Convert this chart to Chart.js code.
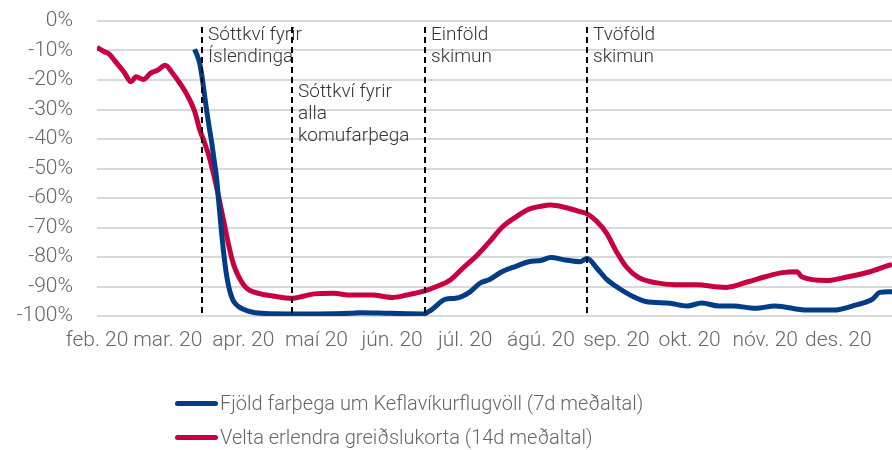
<!DOCTYPE html>
<html>
<head>
<meta charset="utf-8">
<script src="https://cdn.jsdelivr.net/npm/chart.js@4/dist/chart.umd.min.js"></script>
<style>
  html, body { margin:0; padding:0; background:#fff; }
  #wrap { position:relative; width:892px; height:450px; font-family: Roboto, sans-serif; font-weight:300; }
  #legend { position:absolute; left:175px; top:386px; color:#666; font-size:20px; }
  #legend .item { display:flex; align-items:center; height:34px; }
  #legend .swatch { width:43px; height:5px; border-radius:3px; margin-right:2px; }
</style>
</head>
<body>
<div id="wrap">
  <canvas id="c" width="892" height="450"></canvas>
  <div id="legend"></div>
</div>
<script>
  // x = dagar frá 1. feb 2020
  const monthDays = [0, 29, 60, 90, 121, 151, 182, 213, 243, 274, 304];
  const monthLabels = ['feb. 20','mar. 20','apr. 20','maí 20','jún. 20','júl. 20','ágú. 20','sep. 20','okt. 20','nóv. 20','des. 20'];

  const seriesLabels = ['Fjöld farþega um Keflavíkurflugvöll (7d meðaltal)', 'Velta erlendra greiðslukorta (14d meðaltal)'];
  const seriesColors = ['#003d86', '#c8003e'];

  const blueDays = [40, 41, 42, 43, 44, 45, 46, 47, 48, 49, 50, 51, 52, 53, 54, 55, 56, 58, 60, 65, 79, 90, 104, 108, 120, 134, 137, 143, 147, 153, 157, 161, 166, 172, 177, 182, 186, 192, 198, 201, 205, 209, 214, 220, 225, 235, 242, 248, 255, 261, 270, 278, 291, 302, 311, 318, 321, 326];
  const blueValues = [-9.6, -11.5, -14, -18.5, -24.5, -30.5, -36, -41, -47, -53, -62, -71, -79, -85.5, -90, -93, -95, -96.8, -97.7, -98.9, -99.3, -99.3, -99.1, -98.9, -99.1, -99.3, -98, -94.3, -94, -91.8, -88.9, -87.6, -85, -83.1, -81.6, -81.2, -80.2, -81, -81.6, -80.5, -83.8, -87.6, -90.6, -93.5, -95.1, -95.7, -96.6, -95.6, -96.6, -96.6, -97.4, -96.6, -98, -98, -96.3, -94.3, -92, -91.8];

  const redDays = [0, 3, 5, 7, 11, 14, 16, 19, 22, 25, 28, 31, 34, 37, 40, 42, 44, 46, 48, 50, 52, 54, 56, 58, 60, 62, 67, 72, 80, 85, 89, 97, 104, 113, 121, 127, 134, 139, 145, 150, 156, 161, 166, 172, 177, 182, 186, 192, 198, 201, 205, 209, 213, 217, 222, 229, 237, 246, 255, 258, 267, 274, 281, 287, 289, 299, 308, 317, 324, 326];
  const redValues = [-9, -10.4, -11.2, -13.2, -17.2, -20.6, -18.9, -19.8, -17.7, -16.6, -15, -17.7, -21.1, -25.1, -30.5, -36.5, -41, -46, -52.5, -60, -68, -76, -82.5, -86.5, -89.3, -91, -92.5, -93.2, -94, -93.2, -92.5, -92.3, -92.9, -92.9, -93.7, -92.9, -91.6, -90.1, -87.7, -83.8, -79.3, -74.8, -70, -66.3, -63.8, -62.8, -62.4, -63.2, -64.6, -65.4, -68, -72, -78.2, -83.3, -86.9, -88.7, -89.4, -89.4, -90.2, -90.3, -88.4, -86.7, -85.3, -85, -86.7, -88, -86.7, -85, -83, -82.5];

  // lóðréttar línur: aðgerðir á landamærum
  const eventDays = [43, 80, 134.3, 201];
  const eventLabels = [['Sóttkví fyrir', 'Íslendinga'], ['Sóttkví fyrir', 'alla', 'komufarþega'], ['Einföld', 'skimun'], ['Tvöföld', 'skimun']];
  const eventTextTop = [-4.7, -24, -4.7, -4.7];

  const FONT = 'Roboto, sans-serif';

  function toPoints(days, vals){ return days.map((d, i) => ({ x: d, y: vals[i] })); }

  const eventPlugin = {
    id: 'events',
    afterDatasetsDraw(chart){
      const ctx = chart.ctx;
      const xs = chart.scales.x, ys = chart.scales.y;
      ctx.save();
      eventDays.forEach((d, i) => {
        const px = Math.round(xs.getPixelForValue(d));
        ctx.beginPath();
        ctx.setLineDash([6, 4]);
        ctx.lineWidth = 2;
        ctx.strokeStyle = '#000';
        ctx.moveTo(px, chart.chartArea.top + 6);
        ctx.lineTo(px, chart.chartArea.bottom);
        ctx.stroke();
        ctx.setLineDash([]);
        ctx.fillStyle = '#333';
        ctx.font = '300 19px ' + FONT;
        ctx.textAlign = 'left';
        ctx.textBaseline = 'middle';
        const y0 = ys.getPixelForValue(eventTextTop[i]);
        eventLabels[i].forEach((t, j) => ctx.fillText(t, px + 6, y0 + j * 22));
      });
      ctx.restore();
    }
  };

  new Chart(document.getElementById('c'), {
    type: 'line',
    data: {
      datasets: [
        { label: seriesLabels[0], data: toPoints(blueDays, blueValues), borderColor: seriesColors[0], backgroundColor: seriesColors[0], borderWidth: 5, pointRadius: 0, cubicInterpolationMode: 'monotone' },
        { label: seriesLabels[1], data: toPoints(redDays, redValues), borderColor: seriesColors[1], backgroundColor: seriesColors[1], borderWidth: 5, pointRadius: 0, cubicInterpolationMode: 'monotone' }
      ]
    },
    options: {
      responsive: false,
      animation: false,
      layout: { padding: { top: 21, right: 0, bottom: 0, left: 0 } },
      plugins: { legend: { display: false }, tooltip: { enabled: false } },
      scales: {
        x: {
          type: 'linear', min: 0, max: 326,
          afterBuildTicks: s => { s.ticks = monthDays.map(v => ({ value: v })); },
          afterFit: s => { s.height = 134; },
          ticks: { autoSkip: false, maxRotation: 0, padding: 12, color: '#666', font: { family: FONT, size: 21, weight: 300 },
            callback: v => monthLabels[monthDays.indexOf(v)] },
          grid: { display: false, drawTicks: false },
          border: { display: false }
        },
        y: {
          min: -100, max: 0,
          afterFit: s => { s.width = 97; s.paddingTop = 0; s.paddingBottom = 0; },
          ticks: { stepSize: 10, autoSkip: false, padding: 24, color: '#666', font: { family: FONT, size: 21, weight: 300 }, callback: v => v + '%' },
          grid: { color: '#d9d9d9', lineWidth: 2, drawTicks: false },
          border: { display: false }
        }
      }
    },
    plugins: [eventPlugin]
  });

  document.getElementById('legend').innerHTML = seriesLabels.map((l, i) =>
    `<div class="item"><span class="swatch" style="background:${seriesColors[i]}"></span><span>${l}</span></div>`).join('');
</script>
</body>
</html>
